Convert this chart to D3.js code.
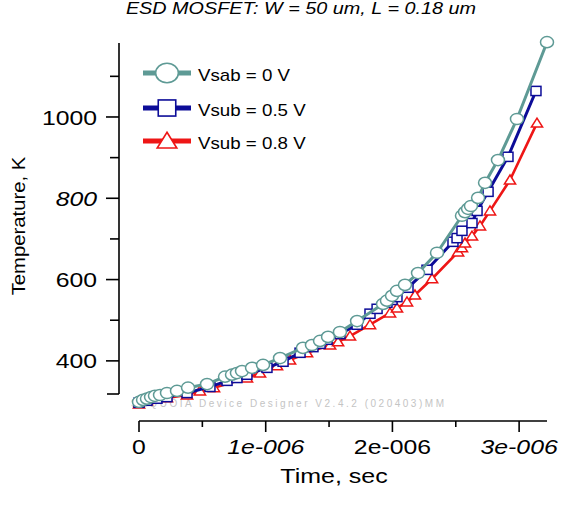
<!DOCTYPE html>
<html><head><meta charset="utf-8">
<script src="https://cdn.jsdelivr.net/npm/d3@7"></script>
<style>
body{margin:0;background:#fff}
svg{display:block}
text{font-family:"Liberation Sans",Arial,Helvetica,sans-serif}
</style>
</head><body>
<svg id="chart" width="588" height="522"></svg>
<script>
// ---- data (time in microseconds, temperature in K) ----
const seriesNames = ["Vsab = 0 V", "Vsub = 0.5 V", "Vsub = 0.8 V"];
const timeA = [0,0.032,0.063,0.095,0.126,0.166,0.221,0.300,0.387,0.537,0.679,0.734,0.773,0.813,0.892,0.979,1.113,1.294,1.365,1.429,1.492,1.586,1.721,1.926,1.957,1.997,2.036,2.099,2.202,2.352,2.549,2.573,2.597,2.620,2.676,2.731,2.833,2.983,3.220];
const tempA = [299,304,307,311,314,316,321,326,334,343,361,366,370,375,383,390,407,432,439,449,459,471,498,540,548,560,572,587,616,666,757,766,774,781,801,838,894,995,1184];
const timeB = [0,0.063,0.142,0.221,0.379,0.560,0.695,0.773,0.852,1.010,1.137,1.271,1.373,1.429,1.484,1.586,1.721,1.823,1.879,1.957,1.997,2.036,2.123,2.273,2.478,2.510,2.549,2.628,2.668,2.755,2.912,3.133];
const tempB = [297,302,307,311,321,336,351,358,366,383,398,420,434,442,452,466,489,516,528,543,550,557,580,624,693,702,720,739,769,816,902,1064];
const timeC = [0,0.063,0.221,0.379,0.481,0.592,0.852,0.955,1.089,1.192,1.326,1.508,1.571,1.665,1.823,1.981,2.036,2.115,2.178,2.313,2.518,2.549,2.573,2.628,2.691,2.770,2.928,3.141];
const tempC = [294,302,309,316,326,334,358,370,388,402,420,439,447,461,489,518,530,545,562,602,668,678,690,707,732,769,845,985];
const xMajorTicks = [0, 1e-6, 2e-6, 3e-6];
const xMinorTicks = [0.5e-6, 1.5e-6, 2.5e-6];
const xTickLabels = ["0", "1e-006", "2e-006", "3e-006"];
const yMajorTicks = [400, 600, 800, 1000];
const yMinorTicks = [500, 700, 900, 1100];
const yTickLabels = ["400", "600", "800", "1000"];

const svg = d3.select("#chart");
const x = d3.scaleLinear().domain([0, 3.22e-6]).range([139, 547]);
const y = d3.scaleLinear().domain([318.5, 1182]).range([394, 43]);
const SX = 1.18; // horizontal stretch of the original's lettering

function addText(parent, tx, ty, str, o) {
  o = o || {};
  const t = parent.append("text")
    .attr("transform", `translate(${tx},${ty})` + (o.rotate ? ` rotate(${o.rotate})` : "") + ` scale(${o.sx || SX},1)`)
    .attr("font-size", o.size || 16)
    .attr("text-anchor", o.anchor || "start")
    .attr("font-style", o.italic ? "italic" : "normal")
    .attr("fill", o.fill || "#000")
    .text(str);
  if (o.dy) t.attr("dy", o.dy);
  return t;
}

// title
addText(svg, 301, 14, "ESD MOSFET: W = 50 um, L = 0.18 um", {size: 16.5, anchor: "middle", italic: true, sx: 1.2});

// watermark
svg.append("text").attr("x", 131).attr("y", 407).attr("font-size", 10)
  .attr("fill", "#c4c4c4").attr("textLength", 313).attr("lengthAdjust", "spacing")
  .text("SEQUOIA Device Designer V2.4.2 (020403)MM");

// y axis
const gy = svg.append("g");
gy.append("line").attr("x1", 119).attr("x2", 119).attr("y1", y(1182)).attr("y2", y(318.5)).attr("stroke", "#000").attr("stroke-width", 1.6);
gy.append("line").attr("x1", 107).attr("x2", 119).attr("y1", y(318.5)).attr("y2", y(318.5)).attr("stroke", "#000").attr("stroke-width", 1.6);
gy.selectAll(".ymaj").data(yMajorTicks).join("line")
  .attr("x1", 106).attr("x2", 119).attr("y1", d => y(d)).attr("y2", d => y(d)).attr("stroke", "#000").attr("stroke-width", 1.6);
gy.selectAll(".ymin").data(yMinorTicks).join("line")
  .attr("x1", 110).attr("x2", 119).attr("y1", d => y(d)).attr("y2", d => y(d)).attr("stroke", "#000").attr("stroke-width", 1.6);
yMajorTicks.forEach((d, i) => {
  addText(gy, 97, y(d), yTickLabels[i], {size: 21, anchor: "end", dy: "0.36em", italic: yTickLabels[i] === "800"});
});
addText(svg, 25, 226, "Temperature, K", {size: 17.5, anchor: "middle", rotate: -90, sx: 1.16});

// x axis
const gx = svg.append("g");
gx.append("line").attr("x1", x(0)).attr("x2", 547).attr("y1", 421).attr("y2", 421).attr("stroke", "#000").attr("stroke-width", 1.6);
gx.selectAll(".xmaj").data(xMajorTicks).join("line")
  .attr("x1", d => x(d)).attr("x2", d => x(d)).attr("y1", 421).attr("y2", 432).attr("stroke", "#000").attr("stroke-width", 1.6);
gx.selectAll(".xmin").data(xMinorTicks).join("line")
  .attr("x1", d => x(d)).attr("x2", d => x(d)).attr("y1", 421).attr("y2", 427).attr("stroke", "#000").attr("stroke-width", 1.6);
xMajorTicks.forEach((d, i) => {
  addText(gx, x(d), 454, xTickLabels[i], {size: 21, anchor: "middle", italic: i % 2 === 1});
});
addText(svg, 334, 483, "Time, sec", {size: 21, anchor: "middle", sx: 1.19});

// series
function pts(ts, vs) { return ts.map((t, i) => [t * 1e-6, vs[i]]); }
const line = d3.line().x(d => x(d[0])).y(d => y(d[1]));
const series = [
  {name: seriesNames[2], data: pts(timeC, tempC), color: "#ee1616", marker: "tri", w: 2.6},
  {name: seriesNames[1], data: pts(timeB, tempB), color: "#0c0c98", marker: "sq", w: 3},
  {name: seriesNames[0], data: pts(timeA, tempA), color: "#5e9a95", marker: "circ", w: 3}
];
function drawMarker(g, type, cx, cy, s, color, sw) {
  if (type === "circ") {
    g.append("ellipse").attr("cx", cx).attr("cy", cy).attr("rx", 6.5 * s).attr("ry", 5.6 * s)
      .attr("fill", "#fff").attr("stroke", color).attr("stroke-width", sw);
  } else if (type === "sq") {
    g.append("rect").attr("x", cx - 5 * s).attr("y", cy - 4.6 * s).attr("width", 10 * s).attr("height", 9.2 * s)
      .attr("fill", "#fff").attr("stroke", color).attr("stroke-width", sw);
  } else {
    g.append("path").attr("d", `M${cx},${cy - 5 * s}L${cx + 5.6 * s},${cy + 4 * s}L${cx - 5.6 * s},${cy + 4 * s}Z`)
      .attr("fill", "#fff").attr("stroke", color).attr("stroke-width", sw);
  }
}
series.forEach(s => {
  const g = svg.append("g");
  g.append("path").datum(s.data).attr("d", line).attr("fill", "none")
    .attr("stroke", s.color).attr("stroke-width", s.w).attr("stroke-linejoin", "round");
  s.data.forEach(d => drawMarker(g, s.marker, x(d[0]), y(d[1]), 1, s.color, 1.5));
});

// legend
const legendRows = [
  {name: seriesNames[0], color: "#5e9a95", marker: "circ", yy: 73},
  {name: seriesNames[1], color: "#0c0c98", marker: "sq", yy: 108},
  {name: seriesNames[2], color: "#ee1616", marker: "tri", yy: 141}
];
legendRows.forEach(r => {
  const g = svg.append("g");
  g.append("line").attr("x1", 143).attr("x2", 191).attr("y1", r.yy).attr("y2", r.yy)
    .attr("stroke", r.color).attr("stroke-width", 5);
  drawMarker(g, r.marker, 167, r.yy, 1.75, r.color, 1.6);
  addText(g, 198, r.yy + 2, r.name, {size: 16, dy: "0.36em", sx: 1.17});
});
</script>
</body></html>
